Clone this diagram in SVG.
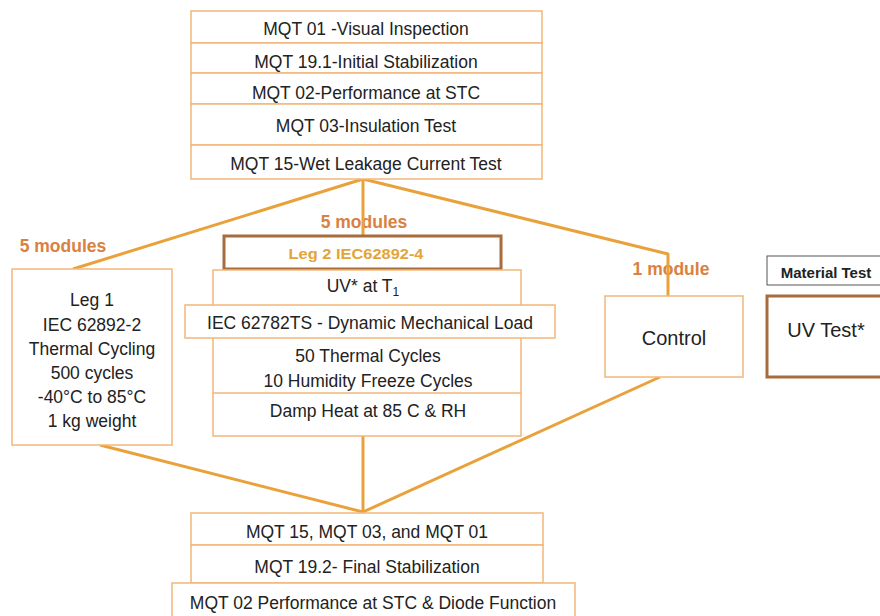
<svg xmlns="http://www.w3.org/2000/svg" width="880" height="616" viewBox="0 0 880 616">
<style>
text{font-family:"Liberation Sans",Arial,sans-serif;font-size:17.5px;fill:#222;text-anchor:middle}
.box{fill:#fff;stroke:#F2B77A;stroke-width:1.5}
.lbl{font-weight:bold;fill:#D9813F}
.con{fill:none;stroke:#E9A23B;stroke-width:3;stroke-linejoin:round}
.brown{fill:#fff;stroke:#A86B3C;stroke-width:3}
</style>
<rect width="880" height="616" fill="#fff"/>
<g id="labels">
<text class="lbl" x="63" y="252">5 modules</text>
<text class="lbl" x="364" y="228">5 modules</text>
<text class="lbl" x="671" y="275">1 module</text>
</g>
<g id="connectors">
<path class="con" d="M363,179 L73,269"/>
<path class="con" d="M363,179 L363,236"/>
<path class="con" d="M363,179 L668,254 L668,296"/>
<path class="con" d="M100,445 L363,512"/>
<path class="con" d="M363,436 L363,512"/>
<path class="con" d="M660,377 L363,512"/>
</g>
<g id="initial-tests">
<rect class="box" x="191" y="11" width="351" height="32"/>
<rect class="box" x="191" y="43" width="351" height="30"/>
<rect class="box" x="191" y="73" width="351" height="31"/>
<rect class="box" x="191" y="104" width="351" height="41"/>
<rect class="box" x="191" y="145" width="351" height="34"/>
<text x="366" y="35">MQT 01 -Visual Inspection</text>
<text x="366" y="68">MQT 19.1-Initial Stabilization</text>
<text x="366" y="99">MQT 02-Performance at STC</text>
<text x="366" y="132">MQT 03-Insulation Test</text>
<text x="366" y="170">MQT 15-Wet Leakage Current Test</text>
</g>
<g id="leg1">
<rect class="box" x="12" y="269" width="160" height="176"/>
<text x="92" y="306">Leg 1</text>
<text x="92" y="331">IEC 62892-2</text>
<text x="92" y="355">Thermal Cycling</text>
<text x="92" y="379">500 cycles</text>
<text x="92" y="403">-40°C to 85°C</text>
<text x="92" y="427">1 kg weight</text>
</g>
<g id="leg2-header">
<rect class="brown" x="224" y="236" width="277" height="33"/>
<text x="356" y="259" textLength="135" lengthAdjust="spacingAndGlyphs" style="font-size:15px;font-weight:bold;fill:#E3A53A">Leg 2 IEC62892-4</text>
</g>
<g id="leg2">
<rect class="box" x="213" y="270" width="308" height="166"/>
<line x1="213" y1="393" x2="521" y2="393" stroke="#F2B77A" stroke-width="1.5"/>
<rect class="box" x="185" y="305" width="370" height="33"/>
<text x="363" y="292">UV* at T<tspan font-size="12" dy="4">1</tspan></text>
<text x="370" y="329">IEC 62782TS - Dynamic Mechanical Load</text>
<text x="368" y="362">50 Thermal Cycles</text>
<text x="368" y="387">10 Humidity Freeze Cycles</text>
<text x="368" y="417">Damp Heat at 85 C &amp; RH</text>
</g>
<g id="control">
<rect class="box" x="605" y="296" width="138" height="81"/>
<text x="674" y="345" style="font-size:20px">Control</text>
</g>
<g id="material-test">
<rect x="767" y="256" width="120" height="29" fill="#fff" stroke="#555" stroke-width="1"/>
<text x="826" y="278" style="font-size:15px;font-weight:bold">Material Test</text>
</g>
<g id="uv-test">
<rect class="brown" x="767" y="296" width="125" height="81"/>
<text x="826" y="337" style="font-size:20px">UV Test*</text>
</g>
<g id="final-tests">
<rect class="box" x="191" y="513" width="352" height="32"/>
<rect class="box" x="191" y="545" width="352" height="38"/>
<rect class="box" x="172" y="583" width="403" height="40"/>
<text x="367" y="538">MQT 15, MQT 03, and MQT 01</text>
<text x="367" y="573">MQT 19.2- Final Stabilization</text>
<text x="373" y="609">MQT 02 Performance at STC &amp; Diode Function</text>
</g>
</svg>
